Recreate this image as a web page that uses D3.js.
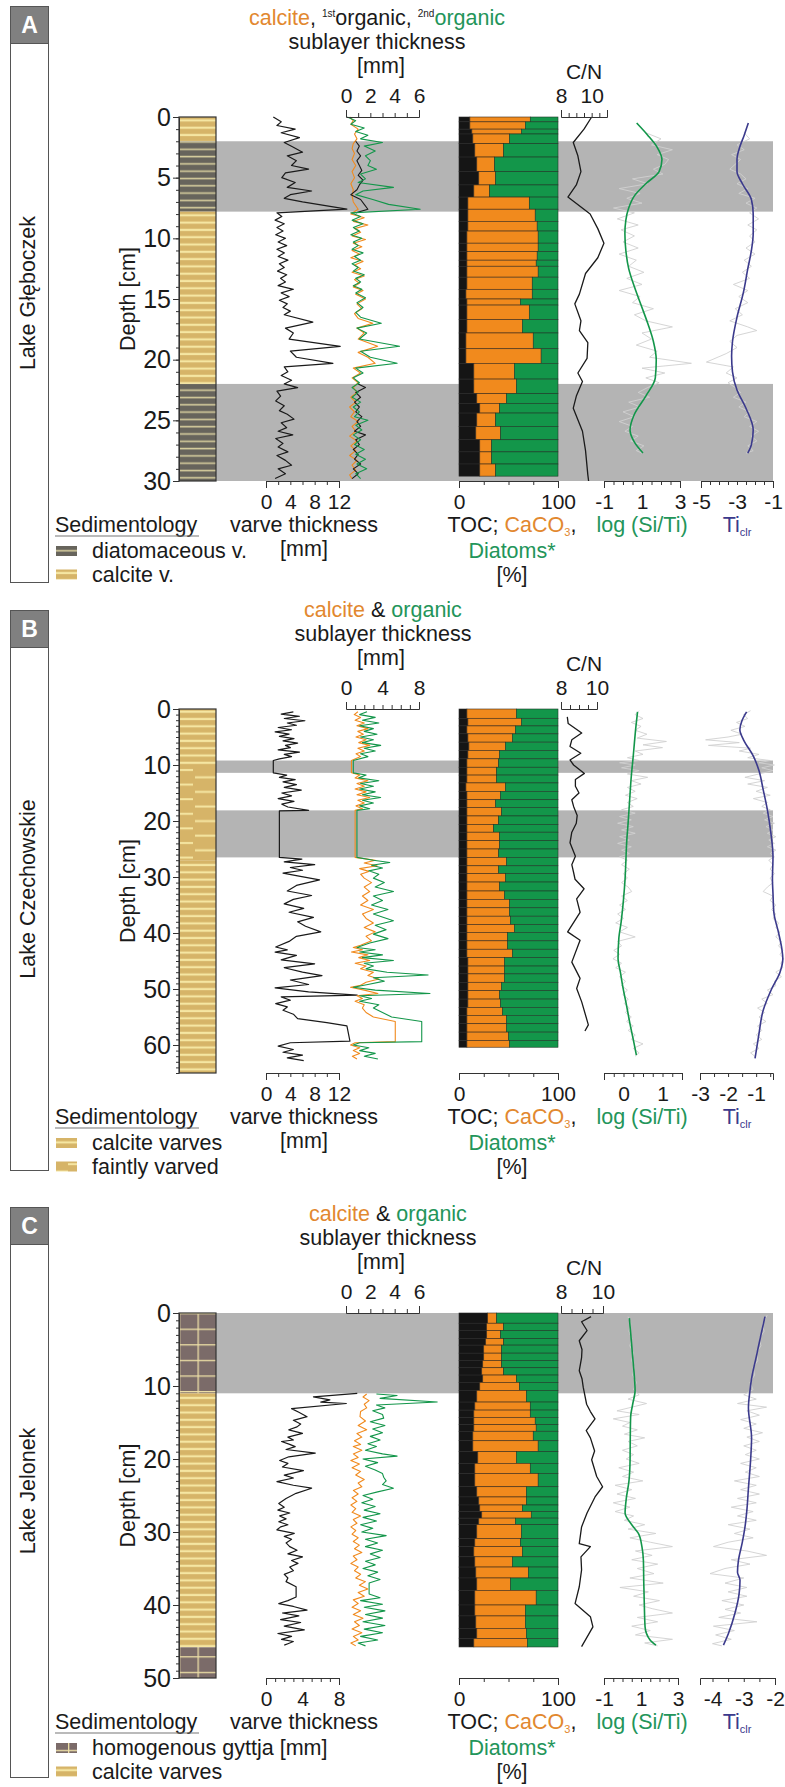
<!DOCTYPE html>
<html>
<head>
<meta charset="utf-8">
<script src="https://cdn.jsdelivr.net/npm/d3@7"></script>
<style>
  body { margin: 0; background: #fff; }
  svg { display: block; font-family: "Liberation Sans", Arial, Helvetica, sans-serif; }
</style>
</head>
<body>
<svg id="chart" width="785" height="1787"></svg>
<script>
// ---------- Lake Gleboczek (A) ----------
const aDepthTicks = [0, 5, 10, 15, 20, 25, 30];
const aLith = [[0, 2, "calcite"], [2, 7.8, "diatom"], [7.8, 22, "calcite"], [22, 30, "diatom"]];
const aBands = [[2, 7.8], [22, 30]];
const aVarveTicks = [0, 4, 8, 12];
const aVarve = [[0,1.2],[0.4,2.5],[0.7,1.8],[1.0,4.8],[1.3,2.5],[1.7,5.5],[2.1,3.0],[2.5,4.5],[2.9,6.0],[3.2,3.5],[3.6,5.0],[4.0,4.2],[4.3,7.0],[4.6,3.2],[5.0,2.6],[5.4,4.8],[5.8,3.5],[6.1,7.5],[6.4,4.0],[6.7,3.0],[7.0,6.0],[7.6,13.3],[7.9,1.8],[8.2,2.6],[8.5,1.5],[8.8,3.0],[9.1,1.8],[9.4,2.8],[9.7,1.6],[10.0,3.2],[10.3,2.0],[10.6,3.4],[10.9,1.8],[11.2,3.0],[11.5,2.0],[11.8,3.6],[12.1,2.2],[12.4,3.0],[12.7,1.9],[13.0,3.4],[13.3,2.4],[13.6,3.2],[13.9,2.0],[14.2,4.5],[14.5,2.5],[14.8,3.8],[15.1,2.2],[15.4,3.5],[15.7,2.8],[16.0,4.0],[16.3,3.0],[16.9,7.7],[17.4,3.2],[17.8,4.5],[18.3,3.8],[18.9,12.2],[19.3,4.0],[19.8,5.0],[20.3,11.0],[20.6,3.0],[21.0,3.6],[21.3,2.5],[21.7,4.2],[22.0,3.0],[22.3,5.2],[22.6,1.8],[23.0,2.4],[23.4,1.6],[23.8,3.0],[24.2,2.2],[24.5,3.5],[24.9,4.6],[25.2,2.5],[25.6,3.4],[25.9,2.0],[26.2,4.4],[26.5,1.6],[26.9,2.8],[27.2,2.0],[27.6,3.6],[27.9,1.8],[28.3,3.2],[28.7,4.2],[29.0,2.0],[29.4,3.2],[29.8,1.5]];
const aSubTicks = [0, 2, 4, 6];
const aCalcite = [[0,0.3],[0.3,0.6],[0.6,0.4],[1.0,1.0],[1.4,0.7],[1.8,0.9],[2.2,0.6],[2.6,0.5],[3.0,0.7],[3.5,0.5],[4.0,0.8],[4.5,0.5],[5.0,0.7],[5.5,0.4],[6.0,0.6],[6.5,0.5],[7.0,0.6],[7.6,1.0],[8.0,0.4],[8.3,1.5],[8.6,0.6],[8.9,1.8],[9.2,0.7],[9.5,1.2],[9.8,0.5],[10.1,1.6],[10.4,0.6],[10.7,1.3],[11.0,0.5],[11.3,1.1],[11.6,0.4],[11.9,1.4],[12.2,0.7],[12.5,1.2],[12.8,0.5],[13.1,1.5],[13.4,0.7],[13.7,1.1],[14.0,0.6],[14.3,1.4],[14.6,0.8],[15.0,1.6],[15.4,0.9],[15.8,1.3],[16.2,0.7],[16.6,1.0],[17.0,2.2],[17.4,0.9],[17.8,1.5],[18.3,1.0],[18.9,2.6],[19.4,1.0],[19.8,1.8],[20.3,2.4],[20.7,0.6],[21.1,1.2],[21.5,0.5],[21.9,1.0],[22.3,0.6],[22.7,0.9],[23.1,0.4],[23.5,0.8],[23.9,0.3],[24.3,0.7],[24.7,0.4],[25.1,1.0],[25.5,0.5],[25.9,0.8],[26.3,0.3],[26.7,0.9],[27.1,0.4],[27.5,0.8],[27.9,0.3],[28.3,0.9],[28.7,0.5],[29.1,0.8],[29.5,0.3],[29.8,0.5]];
const aOrg1 = [[2.0,0.8],[2.4,1.1],[2.8,0.9],[3.2,1.2],[3.6,0.9],[4.0,1.1],[4.4,1.3],[4.8,1.0],[5.2,1.4],[5.6,1.1],[6.0,0.9],[6.4,0.4],[6.8,1.2],[7.2,1.5],[7.6,1.8],[7.9,0.8],null,[22.0,1.0],[22.3,1.6],[22.7,0.8],[23.1,1.2],[23.5,0.7],[23.9,1.1],[24.3,0.8],[24.7,1.3],[25.1,0.9],[25.5,1.2],[25.9,0.7],[26.2,1.6],[26.6,0.8],[27.0,1.1],[27.4,0.6],[27.8,1.0],[28.2,0.7],[28.6,1.2],[29.0,0.6],[29.4,1.0],[29.8,0.5]];
const aOrg2 = [[0,0.1],[0.3,0.8],[0.6,0.4],[0.9,1.5],[1.2,0.8],[1.5,1.8],[1.8,1.2],[2.1,3.0],[2.4,1.5],[2.8,2.4],[3.2,1.6],[3.6,2.0],[4.0,1.8],[4.3,2.5],[4.7,1.2],[5.1,1.6],[5.4,1.0],[5.8,3.9],[6.1,1.4],[6.4,0.8],[6.8,2.2],[7.2,3.5],[7.6,6.1],[7.9,0.4],[8.2,1.2],[8.5,0.5],[8.8,1.4],[9.1,0.6],[9.4,1.1],[9.7,0.4],[10.0,1.3],[10.3,0.6],[10.6,1.0],[10.9,0.5],[11.2,1.4],[11.5,0.7],[11.8,1.2],[12.1,0.5],[12.4,1.0],[12.7,0.6],[13.0,1.5],[13.3,0.8],[13.6,1.2],[13.9,0.6],[14.2,1.3],[14.5,0.8],[14.9,1.6],[15.3,0.9],[15.7,1.4],[16.1,0.8],[16.5,1.2],[17.0,2.9],[17.4,0.9],[17.8,1.7],[18.3,1.1],[18.9,4.4],[19.3,1.2],[19.8,2.0],[20.3,4.2],[20.7,0.8],[21.1,1.4],[21.5,0.6],[21.9,1.1],[22.3,0.5],[22.7,1.0],[23.1,0.5],[23.5,1.2],[23.9,0.6],[24.3,1.1],[24.7,0.7],[25.0,1.8],[25.4,0.8],[25.8,1.3],[26.2,0.6],[26.6,1.2],[27.0,0.7],[27.4,1.5],[27.8,0.8],[28.2,1.6],[28.6,0.9],[29.0,1.7],[29.4,0.8],[29.8,1.2]];
// [top, bottom, TOC %, CaCO3 %] - diatoms fill the rest to 100
const aBars = [[0,0.4,11,61],[0.4,1.0,11,56],[1.0,1.4,13,50],[1.4,2.2,14,37],[2.2,3.3,16,29],[3.3,4.5,18,18],[4.5,5.6,20,17],[5.6,6.6,15,16],[6.6,7.6,9,62],[7.6,8.6,9,68],[8.6,9.4,9,70],[9.4,10.4,8,72],[10.4,11.1,8,72],[11.1,11.8,8,71],[11.8,12.3,8,70],[12.3,13.2,8,72],[13.2,14.2,8,66],[14.2,15.0,7,67],[15.0,15.5,8,54],[15.5,16.7,8,63],[16.7,17.8,8,56],[17.8,19.1,7,68],[19.1,20.3,7,76],[20.3,21.6,15,41],[21.6,22.8,15,43],[22.8,23.6,18,30],[23.6,24.4,21,20],[24.4,25.5,18,19],[25.5,26.6,17,25],[26.6,27.6,21,12],[27.6,28.6,21,12],[28.6,29.6,21,16]];
const aCN = [[0,10.0],[1.0,9.5],[2.1,8.8],[3.2,9.1],[4.5,9.3],[5.6,9.0],[6.6,8.45],[8.0,9.9],[9.2,10.4],[10.4,10.8],[11.6,10.4],[12.9,9.6],[14.6,9.2],[15.4,8.9],[16.8,9.3],[17.6,9.2],[18.6,9.75],[19.9,9.7],[21.1,9.1],[21.8,9.4],[23.0,9.0],[24.0,8.8],[25.9,9.4],[27.5,9.6],[29.5,9.75],[30,9.8]];
const aLogTicks = [-1, 1, 3];
const aLogRaw = [[1.3,1.2],[1.8,2.0],[2.3,1.5],[2.7,2.6],[3.1,1.8],[3.5,2.4],[3.9,2.2],[4.3,1.6],[4.7,2.1],[5.1,0.5],[5.5,1.3],[5.9,-0.2],[6.3,0.9],[6.7,0.2],[7.1,1.0],[7.5,-0.5],[7.9,0.6],[8.4,-0.3],[8.9,0.8],[9.3,-0.1],[9.8,0.6],[10.3,0.0],[10.8,0.8],[11.3,-0.2],[11.8,0.7],[12.3,0.3],[12.8,1.1],[13.3,0.2],[13.8,1.0],[14.3,-0.2],[14.8,0.9],[15.3,0.5],[15.8,1.6],[16.3,0.6],[16.8,1.2],[17.3,2.6],[17.8,1.0],[18.3,1.5],[18.8,0.7],[19.3,1.8],[19.8,1.4],[20.3,3.6],[20.7,1.0],[21.1,2.2],[21.5,1.2],[21.9,1.9],[22.3,1.3],[22.7,0.8],[23.1,1.4],[23.5,0.3],[23.9,0.9],[24.3,0.0],[24.7,0.6],[25.1,-0.2],[25.5,0.5],[25.9,0.1],[26.3,0.8],[26.7,0.4],[27.1,1.1],[27.5,0.7],[27.7,1.0]];
const aLogSmooth = [[0.5,0.72],[1.5,1.3],[2.5,1.8],[3.5,2.05],[4.5,1.9],[5.5,1.2],[6.5,0.6],[7.5,0.3],[8.5,0.15],[9.6,0.1],[11,0.15],[12.5,0.3],[14,0.6],[15.5,0.95],[17,1.3],[18.5,1.6],[20,1.75],[21.5,1.7],[23,1.2],[24.5,0.6],[25.8,0.37],[26.8,0.6],[27.7,1.05]];
const aTiTicks = [-5, -3, -1];
const aTiRaw = [[1.3,-2.6],[1.8,-2.3],[2.3,-3.0],[2.7,-2.6],[3.1,-3.3],[3.5,-2.8],[3.9,-3.1],[4.3,-3.4],[4.7,-2.8],[5.1,-2.5],[5.5,-3.0],[5.9,-2.4],[6.3,-2.9],[6.7,-2.0],[7.1,-2.5],[7.5,-1.9],[7.9,-2.3],[8.4,-1.8],[8.9,-2.4],[9.3,-1.9],[9.8,-2.3],[10.3,-2.0],[10.8,-2.5],[11.3,-2.0],[11.8,-2.6],[12.3,-2.2],[12.8,-2.7],[13.3,-2.3],[13.8,-3.2],[14.3,-2.4],[14.8,-2.9],[15.3,-2.4],[15.8,-3.1],[16.3,-2.7],[16.8,-3.4],[17.3,-2.4],[17.6,-1.9],[18.0,-3.0],[18.5,-3.4],[19.0,-3.0],[19.5,-3.6],[20.2,-4.7],[20.6,-3.2],[21.1,-3.6],[21.5,-3.0],[21.9,-3.5],[22.3,-3.1],[22.7,-2.8],[23.1,-3.2],[23.5,-2.5],[23.9,-2.9],[24.3,-2.3],[24.7,-2.6],[25.1,-1.9],[25.5,-2.3],[25.9,-1.8],[26.3,-2.2],[26.7,-1.9],[27.1,-2.4],[27.5,-2.1],[27.7,-2.5]];
const aTiSmooth = [[0.5,-2.37],[1.5,-2.6],[2.5,-2.85],[3.5,-3.0],[4.5,-3.0],[5.5,-2.7],[6.8,-2.2],[8,-2.1],[9.6,-2.1],[11,-2.2],[12.5,-2.4],[14.5,-2.65],[16.5,-3.0],[18.5,-3.25],[19.7,-3.3],[21,-3.25],[22.5,-3.0],[24,-2.5],[25.8,-2.1],[27,-2.2],[27.7,-2.4]];

// ---------- Lake Czechowskie (B) ----------
const bDepthTicks = [0, 10, 20, 30, 40, 50, 60];
const bLith = [[0, 10, "calcite"], [10, 27, "faint"], [27, 65, "calcite"]];
const bBands = [[9.2, 11.4], [18.1, 26.5]];
const bVarveTicks = [0, 4, 8, 12];
const bVarve = [[0.5,4.5],[0.9,2.5],[1.3,5.5],[1.7,3.0],[2.1,6.4],[2.5,3.5],[2.9,5.0],[3.3,2.0],[3.7,4.2],[4.1,1.5],[4.5,3.8],[4.9,2.2],[5.3,4.6],[5.7,2.8],[6.1,5.2],[6.5,3.2],[6.9,4.0],[7.3,2.0],[7.7,5.5],[8.1,3.0],[8.5,4.2],[8.9,2.2],[9.2,1.2],[11.4,1.2],[11.8,3.4],[12.2,2.2],[12.6,4.8],[13.0,2.8],[13.5,5.0],[14.0,3.0],[14.5,5.8],[15.0,2.6],[15.5,4.2],[16.0,2.0],[16.5,4.6],[17.0,2.6],[17.5,3.6],[18.1,7.0],[18.2,2.2],[26.5,2.2],[26.8,5.9],[27.3,3.0],[27.8,8.0],[28.3,4.0],[28.8,6.0],[29.3,2.8],[29.8,5.2],[30.5,8.8],[31.5,5.0],[32.5,3.5],[33.3,7.5],[34.0,4.5],[34.8,3.0],[35.6,6.2],[36.3,3.8],[37.2,7.8],[38.0,5.2],[38.8,6.5],[39.8,9.0],[40.6,5.0],[41.5,3.8],[42.5,1.6],[43.0,3.5],[43.4,1.5],[44.0,5.0],[44.8,2.5],[45.5,8.0],[46.2,3.0],[47.0,6.0],[47.6,9.2],[48.4,4.0],[49.2,7.0],[49.8,1.5],[50.5,7.0],[51.1,15.0],[51.4,2.5],[52.0,4.0],[52.6,1.6],[53.2,3.5],[53.8,2.8],[54.5,4.5],[55.3,5.2],[56.0,10.0],[56.6,13.3],[59.3,13.8],[59.6,4.0],[60.2,2.0],[60.8,4.5],[61.3,2.8],[61.8,6.0],[62.3,3.5],[62.8,6.2]];
const bSubTicks = [0, 4, 8];
const bCalcite = [[0.5,1.3],[1.0,0.9],[1.5,1.6],[2.0,1.0],[2.5,2.0],[3.0,1.2],[3.5,2.4],[4.0,1.3],[4.5,1.9],[5.0,1.1],[5.5,2.2],[6.0,1.4],[6.5,2.6],[7.0,1.3],[7.5,2.0],[8.0,1.1],[8.5,1.6],[9.2,0.6],[11.4,0.6],[11.8,1.5],[12.3,1.0],[12.8,2.4],[13.3,1.2],[13.8,2.0],[14.3,1.0],[14.8,2.2],[15.3,1.2],[15.8,2.6],[16.3,1.3],[16.8,2.0],[17.3,1.1],[17.8,1.8],[18.1,1.0],[26.5,1.0],[27.0,3.2],[27.5,2.0],[28.0,3.4],[28.5,1.5],[29.0,2.5],[29.5,1.6],[30.2,2.0],[31.0,2.8],[31.8,2.0],[32.6,2.6],[33.4,1.8],[34.2,2.4],[35.0,1.6],[35.8,3.0],[36.6,1.8],[37.4,2.2],[38.2,3.0],[39.0,2.0],[39.8,3.2],[40.6,2.2],[41.4,2.8],[42.2,1.6],[42.6,0.8],[43.0,1.8],[43.4,0.6],[43.9,2.4],[44.4,1.4],[44.9,2.6],[45.4,1.0],[45.9,2.2],[46.4,1.6],[47.0,3.0],[47.6,2.4],[48.2,3.6],[48.8,2.2],[49.4,1.5],[49.7,0.5],[50.2,2.0],[50.8,3.5],[51.2,1.2],[51.7,1.8],[52.2,1.0],[52.8,2.0],[53.4,1.8],[54.2,2.2],[55.0,3.0],[55.8,5.4],[59.4,5.4],[59.6,1.0],[60.0,0.5],[60.5,1.5],[61.0,0.8],[61.5,1.5],[62.0,0.7],[62.5,1.2]];
const bOrganic = [[0.5,2.3],[1.0,1.5],[1.5,3.2],[2.0,1.8],[2.5,3.6],[3.0,1.5],[3.5,3.0],[4.0,2.0],[4.5,3.4],[5.0,1.6],[5.5,3.0],[6.0,1.8],[6.5,3.8],[7.0,2.0],[7.5,3.2],[8.0,1.6],[8.5,2.4],[9.2,0.8],[11.4,0.8],[11.8,2.2],[12.3,1.4],[12.8,3.6],[13.3,1.6],[13.8,3.0],[14.3,1.5],[14.8,3.2],[15.3,1.8],[15.8,3.8],[16.3,1.8],[16.8,3.0],[17.3,1.5],[17.8,2.6],[18.1,1.2],[26.5,1.2],[27.0,3.0],[27.4,4.8],[27.9,2.8],[28.4,4.0],[28.9,2.5],[29.5,3.6],[30.2,3.0],[31.0,4.2],[31.8,3.2],[32.6,5.2],[33.4,3.0],[34.2,4.0],[35.0,2.8],[35.8,4.6],[36.6,3.0],[37.8,5.2],[38.6,3.2],[39.4,4.4],[40.2,3.0],[41.0,4.6],[41.8,2.6],[42.6,1.2],[43.0,3.2],[43.4,1.5],[43.9,4.0],[44.4,1.8],[44.9,5.2],[45.4,2.0],[45.9,3.0],[46.4,2.2],[47.0,4.5],[47.5,9.0],[48.0,3.0],[48.6,4.2],[49.2,2.4],[49.7,0.8],[50.2,3.2],[50.8,9.2],[51.2,1.5],[51.7,2.8],[52.2,1.5],[52.8,3.6],[53.4,3.0],[54.2,4.0],[55.0,5.0],[55.8,8.3],[59.4,8.3],[59.6,1.5],[60.0,0.8],[60.5,2.5],[61.0,1.5],[61.5,3.2],[62.0,2.0],[62.5,3.5]];
const bBars = [[0,1.66,8,50],[1.66,3.02,9,54],[3.02,4.44,8,49],[4.44,5.92,9,45],[5.92,7.4,10,37],[7.4,8.9,9,32],[8.9,10.4,8,32],[10.4,11.8,8,30],[11.8,13.2,8,30],[13.2,14.7,7,40],[14.7,16.2,8,34],[16.2,17.6,8,29],[17.6,19.1,8,35],[19.1,20.6,8,32],[20.6,22.0,8,27],[22.0,23.5,8,33],[23.5,25.0,8,33],[25.0,26.5,8,32],[26.5,28.0,8,40],[28.0,29.4,8,32],[29.4,30.9,8,39],[30.9,32.5,8,33],[32.5,34.0,8,38],[34.0,35.5,8,43],[35.5,37.0,8,43],[37.0,38.5,8,44],[38.5,39.9,8,48],[39.9,41.4,8,41],[41.4,42.9,8,41],[42.9,44.4,8,46],[44.4,45.9,9,37],[45.9,47.3,9,37],[47.3,48.8,9,37],[48.8,50.3,9,34],[50.3,51.8,9,32],[51.8,53.3,9,33],[53.3,54.7,8,36],[54.7,56.2,8,40],[56.2,57.7,8,40],[57.7,59.2,8,42],[59.2,60.4,8,43]];
const bCN = [[1.4,8.35],[2.6,8.4],[4.3,9.15],[5.5,8.6],[6.7,8.5],[7.9,9.1],[9.1,8.5],[10,8.7],[11.5,9.3],[12.6,8.8],[13.8,8.8],[15,9.0],[16.2,8.6],[17.4,8.7],[19,8.9],[20.4,8.85],[22,8.6],[23.9,8.5],[26.3,8.8],[27.8,8.6],[29.2,8.7],[30.4,8.78],[32.1,9.28],[33.9,8.87],[36.3,9.06],[39.8,8.37],[41.3,9.06],[45.2,8.6],[48.1,9.06],[49.9,8.87],[52.3,9.15],[56.4,9.52],[57.5,9.33]];
const bLogTicks = [0, 1];
const bLogRaw = [[0.3,0.4],[1.0,0.3],[1.7,0.5],[2.4,0.2],[3.1,0.45],[3.8,0.3],[4.5,0.6],[5.2,0.35],[5.8,1.1],[6.4,0.5],[6.9,1.0],[7.5,0.3],[8.1,0.5],[8.7,0.1],[9.2,0.4],[9.6,-0.1],[10.0,0.3],[10.5,-0.05],[11.0,0.4],[11.6,0.1],[12.2,0.62],[12.8,0.2],[13.4,0.45],[14.0,0.1],[14.7,0.3],[15.4,0.05],[16.0,0.35],[16.7,0.1],[17.4,0.25],[18.0,-0.05],[18.6,0.3],[19.2,-0.1],[19.8,0.2],[20.4,-0.15],[21.0,0.25],[21.6,-0.05],[22.2,0.3],[22.8,-0.1],[23.4,0.15],[24.0,-0.15],[24.6,0.2],[25.2,-0.05],[25.8,0.15],[26.4,-0.1],[27.0,0.1],[27.8,-0.05],[28.6,0.15],[29.4,0.0],[30.2,0.1],[31.0,-0.05],[31.8,0.12],[32.6,0.21],[33.4,-0.05],[34.2,0.1],[35.0,-0.1],[35.8,0.05],[36.6,-0.15],[37.4,0.0],[38.2,-0.2],[39.0,0.1],[39.8,-0.1],[40.7,0.3],[41.5,-0.15],[42.3,-0.05],[43.1,-0.25],[43.8,-0.1],[44.6,-0.27],[45.4,-0.05],[46.2,-0.2],[47.0,0.05],[47.8,-0.1],[48.6,0.05],[49.4,-0.05],[50.2,0.1],[51.0,-0.02],[51.8,0.12],[52.6,0.02],[53.4,0.15],[54.2,0.05],[55.0,0.2],[55.8,0.08],[56.6,0.25],[57.4,0.12],[58.2,0.3],[59.0,0.2],[59.8,0.5],[60.6,0.25],[61.4,0.4],[62.0,0.3]];
const bLogSmooth = [[0.5,0.36],[3,0.32],[6,0.28],[8.4,0.25],[12,0.2],[16,0.16],[20.2,0.12],[24,0.08],[27.3,0.06],[30.4,0.04],[34,0.0],[38,-0.06],[41,-0.12],[44.6,-0.14],[47,-0.08],[49.9,-0.01],[53,0.08],[56,0.16],[59,0.25],[61.8,0.33]];
const bTiTicks = [-3, -2, -1];
const bTiRaw = [[0.3,-1.2],[1.0,-1.45],[1.7,-1.3],[2.4,-1.7],[3.1,-1.4],[3.8,-1.9],[4.5,-1.5],[5.0,-2.0],[5.5,-2.8],[6.0,-1.6],[6.5,-2.7],[7.0,-1.2],[7.5,-1.6],[8.1,-0.9],[8.7,-1.3],[9.2,-0.5],[9.6,-0.9],[10.0,-0.35],[10.5,-0.8],[11.0,-0.4],[11.6,-0.9],[12.2,-1.4],[12.8,-0.7],[13.4,-1.3],[14.0,-0.6],[14.7,-1.0],[15.4,-0.5],[16.0,-1.1],[16.7,-0.6],[17.4,-0.8],[18.0,-0.5],[18.6,-0.75],[19.2,-0.4],[19.8,-0.7],[20.4,-0.35],[21.0,-0.65],[21.6,-0.4],[22.2,-0.6],[22.8,-0.3],[23.4,-0.55],[24.0,-0.35],[24.6,-0.6],[25.2,-0.3],[25.8,-0.5],[26.4,-0.35],[27.0,-0.55],[27.8,-0.4],[28.6,-0.5],[29.4,-0.35],[30.2,-0.5],[31.0,-0.4],[31.8,-0.6],[32.6,-0.75],[33.4,-0.4],[34.2,-0.5],[35.0,-0.3],[35.8,-0.45],[36.6,-0.3],[37.4,-0.4],[38.2,-0.2],[39.0,-0.3],[39.8,-0.15],[40.7,-0.3],[41.5,-0.1],[42.3,-0.2],[43.1,-0.05],[43.8,-0.15],[44.6,-0.02],[45.4,-0.12],[46.2,-0.05],[47.0,-0.3],[47.8,-0.1],[48.6,-0.35],[49.4,-0.3],[50.2,-0.6],[51.0,-0.4],[51.8,-0.8],[52.6,-0.6],[53.4,-0.95],[54.2,-0.7],[55.0,-0.9],[55.8,-0.65],[56.6,-0.95],[57.4,-0.8],[58.2,-1.0],[59.0,-0.8],[59.8,-1.1],[60.6,-0.9],[61.4,-1.2],[62.2,-1.0]];
const bTiSmooth = [[0.5,-1.34],[2,-1.5],[3.7,-1.58],[5.5,-1.45],[8.4,-1.1],[11,-0.9],[14.4,-0.75],[18,-0.6],[22,-0.48],[26.3,-0.4],[30.4,-0.42],[33,-0.4],[36.3,-0.37],[40,-0.2],[43,-0.08],[44.6,-0.05],[47,-0.15],[50,-0.45],[54,-0.76],[58,-0.9],[62.4,-1.04]];

// ---------- Lake Jelonek (C) ----------
const cDepthTicks = [0, 10, 20, 30, 40, 50];
const cLith = [[0, 11, "gyttja"], [11, 45.8, "calcite"], [45.8, 50, "gyttja"]];
const cBands = [[0, 11]];
const cVarveTicks = [0, 4, 8];
const cVarve = [[11.0,10.0],[11.5,5.2],[11.9,7.0],[12.2,6.0],[12.4,8.8],[13.1,2.8],[13.6,3.6],[14.2,4.5],[14.7,3.0],[15.2,3.8],[15.6,3.4],[16.0,2.5],[16.5,4.0],[17.0,2.4],[17.4,3.0],[17.6,1.7],[18.0,2.6],[18.3,3.2],[18.7,2.2],[19.2,5.4],[19.7,2.5],[20.2,1.5],[20.6,2.4],[21.1,1.8],[21.6,4.1],[22.2,2.0],[22.6,3.0],[23.1,1.2],[23.6,3.0],[24.0,5.0],[24.7,3.3],[25.4,2.2],[26.1,1.4],[26.6,2.0],[27.0,1.3],[27.4,2.6],[27.8,1.5],[28.2,2.2],[28.6,1.4],[29.0,2.4],[29.3,1.6],[29.7,1.2],[30.2,3.1],[30.6,2.0],[31.0,2.8],[31.5,2.2],[32.0,2.6],[32.5,3.4],[33.0,2.4],[33.4,4.0],[33.9,2.8],[34.3,3.5],[34.8,2.6],[35.3,3.0],[35.8,2.0],[36.3,2.4],[36.8,2.2],[37.5,3.3],[38.2,3.3],[38.9,3.3],[39.4,2.4],[39.8,1.4],[40.2,3.0],[40.7,4.5],[41.1,1.8],[41.5,3.6],[42.0,1.6],[42.4,3.8],[42.9,2.0],[43.4,4.2],[43.9,1.3],[44.3,2.8],[44.7,1.7],[45.0,3.0],[45.3,2.4],[45.5,2.0]];
const cSubTicks = [0, 2, 4, 6];
const cCalcite = [[11.1,1.7],[11.5,1.4],[12.0,1.9],[12.5,1.5],[13.0,1.7],[13.5,1.2],[14.2,1.15],[14.8,1.6],[15.4,1.0],[16.0,1.7],[16.5,0.9],[17.0,1.3],[17.5,0.7],[18.0,1.2],[18.3,0.6],[18.8,1.3],[19.3,0.6],[19.8,1.0],[20.2,0.4],[20.7,1.1],[21.2,0.5],[21.7,1.2],[22.2,0.8],[22.8,1.5],[23.3,1.0],[23.8,1.3],[24.3,0.6],[24.8,1.0],[25.3,0.5],[25.8,0.9],[26.3,0.4],[26.8,0.8],[27.3,0.5],[27.8,1.2],[28.3,0.6],[28.8,0.9],[29.3,0.4],[29.8,0.8],[30.3,0.5],[30.8,1.0],[31.3,0.6],[31.8,1.1],[32.3,0.7],[32.8,1.3],[33.3,0.6],[33.8,0.9],[34.3,0.4],[34.8,1.0],[35.3,0.7],[35.8,1.2],[36.3,0.8],[36.8,1.6],[37.3,1.1],[37.8,1.8],[38.3,1.0],[38.8,1.5],[39.3,0.6],[39.8,1.0],[40.3,0.5],[40.8,1.2],[41.3,0.6],[41.8,1.4],[42.3,0.7],[42.8,1.1],[43.3,0.5],[43.8,1.3],[44.3,0.6],[44.8,1.0],[45.2,0.4],[45.6,0.8]];
const cOrganic = [[11.1,2.5],[11.3,4.2],[11.7,2.8],[12.2,7.5],[12.6,2.5],[13.0,3.2],[13.4,2.2],[13.9,3.0],[14.4,3.1],[14.9,2.0],[15.4,3.2],[15.9,2.2],[16.4,3.0],[16.9,2.0],[17.4,2.8],[17.9,1.8],[18.3,2.5],[18.8,1.6],[19.3,3.0],[19.6,4.2],[20.0,1.4],[20.5,2.6],[21.0,1.6],[21.5,2.4],[22.0,3.0],[22.5,3.1],[23.0,3.3],[23.5,3.0],[24.0,3.9],[24.5,2.6],[25.0,1.4],[25.5,2.2],[26.0,1.3],[26.5,2.4],[27.0,1.5],[27.5,2.8],[28.0,1.4],[28.5,2.5],[29.0,1.2],[29.5,2.2],[30.0,1.3],[30.5,3.3],[31.0,1.6],[31.5,2.6],[32.0,1.6],[32.5,3.0],[33.0,2.0],[33.5,2.8],[34.0,1.6],[34.5,2.4],[35.0,1.4],[35.5,2.6],[36.0,1.8],[36.5,2.8],[37.0,1.9],[37.5,1.9],[38.5,1.9],[39.0,2.8],[39.4,1.2],[39.9,3.0],[40.3,1.5],[40.8,3.2],[41.3,1.6],[41.8,3.0],[42.3,1.4],[42.8,3.2],[43.3,1.5],[43.8,3.0],[44.3,1.2],[44.8,2.6],[45.2,1.0],[45.6,1.6]];
const cBars = [[0,1.4,29,9],[1.4,2.4,28,17],[2.4,3.5,28,14],[3.5,4.4,27,18],[4.4,5.5,25,18],[5.5,6.5,25,18],[6.5,7.5,24,19],[7.5,8.5,23,22],[8.5,9.5,24,34],[9.5,10.6,21,40],[10.6,12.2,18,50],[12.2,13.3,16,56],[13.3,14.3,15,57],[14.3,15.3,15,62],[15.3,16.2,15,63],[16.2,17.5,14,61],[17.5,19.0,14,66],[19.0,20.6,19,39],[20.6,22.0,16,56],[22.0,23.8,16,64],[23.8,25.2,18,50],[25.2,26.3,20,48],[26.3,27.2,21,43],[27.2,28.1,23,50],[28.1,29.0,20,37],[29.0,30.9,18,45],[30.9,32.0,16,46],[32.0,33.4,15,49],[33.4,34.8,16,38],[34.8,36.3,17,53],[36.3,38.0,18,34],[38.0,40.0,16,62],[40.0,41.5,16,51],[41.5,43.2,17,50],[43.2,44.6,18,50],[44.6,45.75,15,54]];
const cCN = [[0.5,9.43],[1.2,8.98],[2.4,9.24],[3.8,8.87],[5.0,9.0],[6.1,8.98],[7.9,8.87],[9.0,9.0],[10.2,9.06],[12.5,9.22],[13.5,9.4],[14.5,9.62],[16.1,9.2],[17.1,9.4],[18.9,9.6],[20.1,9.46],[22.4,9.7],[23.8,9.98],[25.2,9.62],[27.4,9.24],[29.3,8.98],[31.6,8.87],[32.0,9.4],[33.4,8.95],[35.2,8.98],[37.5,8.87],[39.8,8.67],[41.6,9.4],[43.0,9.52],[45.7,8.98]];
const cLogTicks = [-1, 1, 3];
const cLogRaw = [[0.5,0.3],[1.5,0.45],[2.5,0.35],[3.5,0.5],[4.5,0.4],[5.5,0.6],[6.5,0.5],[7.5,0.65],[8.5,0.55],[9.5,0.75],[10.5,0.6],[11.2,0.9],[11.8,0.3],[12.4,1.3],[12.9,0.5],[13.4,-0.3],[13.9,0.9],[14.5,-0.5],[15.0,0.4],[15.5,0.0],[16.0,0.8],[16.6,0.1],[17.1,1.2],[17.6,0.3],[18.2,0.8],[18.8,0.0],[19.4,0.6],[20.0,0.2],[20.6,0.9],[21.2,-0.2],[21.8,0.6],[22.4,0.0],[23.0,1.1],[23.6,-0.4],[24.2,0.5],[24.8,-0.3],[25.4,0.7],[26.0,-0.5],[26.6,0.4],[27.2,-0.4],[27.8,0.6],[28.4,0.1],[29.0,1.2],[29.6,0.3],[30.2,1.8],[30.8,0.4],[31.4,1.5],[32.0,2.7],[32.6,0.7],[33.2,1.6],[33.8,0.5],[34.4,1.9],[35.0,0.8],[35.7,1.7],[36.3,0.4],[37.0,2.2],[37.6,-0.14],[38.2,1.4],[38.8,0.6],[39.4,2.0],[40.0,0.9],[40.5,1.6],[41.1,2.7],[41.7,0.8],[42.3,1.9],[42.9,0.5],[43.5,1.5],[44.1,0.7],[44.7,2.7],[45.2,1.2],[45.6,1.9]];
const cLogSmooth = [[0.7,0.37],[3,0.45],[6,0.55],[9,0.65],[10.6,0.68],[12.5,0.55],[14.2,0.44],[17,0.42],[20.1,0.41],[23,0.35],[25.5,0.2],[27.4,0.14],[29,0.5],[30.2,0.86],[32,1.05],[33.9,1.13],[37,1.15],[40,1.18],[43,1.22],[44.8,1.49],[45.5,1.81]];
const cTiTicks = [-4, -3, -2];
const cTiRaw = [[0.3,-2.25],[1.5,-2.4],[2.5,-2.35],[3.5,-2.5],[4.5,-2.45],[5.5,-2.6],[6.5,-2.55],[7.5,-2.7],[8.5,-2.65],[9.5,-2.8],[10.5,-2.7],[11.2,-3.0],[11.8,-2.6],[12.4,-3.2],[12.9,-2.27],[13.4,-2.9],[14.0,-2.5],[14.6,-3.1],[15.2,-2.6],[15.8,-3.0],[16.4,-2.4],[17.0,-2.9],[17.6,-2.5],[18.2,-3.0],[18.8,-2.6],[19.4,-2.95],[20.0,-2.5],[20.6,-3.1],[21.2,-2.6],[21.8,-2.95],[22.4,-2.5],[23.0,-3.3],[23.6,-2.6],[24.2,-3.1],[24.8,-2.5],[25.4,-3.2],[26.0,-2.6],[26.6,-3.4],[27.2,-2.7],[27.8,-3.2],[28.4,-2.6],[29.0,-3.5],[29.6,-2.8],[30.2,-3.3],[30.8,-2.7],[31.4,-3.5],[32.0,-3.97],[32.6,-2.9],[33.2,-2.27],[33.8,-3.4],[34.4,-2.8],[35.0,-3.6],[35.7,-4.08],[36.3,-3.0],[37.0,-3.6],[37.6,-2.9],[38.2,-3.5],[38.8,-2.9],[39.4,-3.7],[40.0,-3.0],[40.6,-3.6],[41.1,-3.1],[41.7,-3.8],[42.3,-2.58],[42.9,-3.97],[43.5,-3.3],[44.1,-3.9],[44.7,-3.4],[45.3,-4.0],[45.6,-3.7]];
const cTiSmooth = [[0.5,-2.32],[3,-2.45],[6,-2.6],[9,-2.75],[10.6,-2.8],[13,-2.85],[17.1,-2.75],[20.1,-2.78],[24,-2.85],[27,-2.9],[29.3,-2.96],[31.5,-3.05],[33.9,-3.17],[35.5,-3.2],[36.6,-3.12],[38.5,-3.15],[41.1,-3.28],[43.9,-3.49],[45.5,-3.65]];

// ---------- styling ----------
const INK = "#1a1a1a";
const ORANGE = "#f18a1d";
const ORANGE_T = "#e2882f";
const GREEN = "#13964a";
const GREEN_T = "#23955a";
const BLUE = "#3b3a8c";
const BAND = "#b4b4b4";
const RAW = "#d0d0d0";
const FS = 21.5;      // labels
const FS_TICK = 21;   // axis numbers
const FS_DEPTH = 25;  // depth numbers

const svg = d3.select("#chart");
const defs = svg.append("defs");

// lithology patterns
let pat = defs.append("pattern").attr("id", "calcite").attr("patternUnits", "userSpaceOnUse")
  .attr("x", 179).attr("width", 37).attr("height", 7.3);
pat.append("rect").attr("width", 37).attr("height", 7.3).attr("fill", "#d6b468");
pat.append("rect").attr("y", 2.5).attr("width", 37).attr("height", 2.2).attr("fill", "#f5e6a2");

pat = defs.append("pattern").attr("id", "diatom").attr("patternUnits", "userSpaceOnUse")
  .attr("x", 179).attr("width", 37).attr("height", 7.3);
pat.append("rect").attr("width", 37).attr("height", 7.3).attr("fill", "#67645c");
pat.append("rect").attr("y", 2.5).attr("width", 37).attr("height", 1.6).attr("fill", "#d4cb9c");

pat = defs.append("pattern").attr("id", "faint").attr("patternUnits", "userSpaceOnUse")
  .attr("x", 179).attr("width", 37).attr("height", 14.6);
pat.append("rect").attr("width", 37).attr("height", 14.6).attr("fill", "#d6b468");
pat.append("rect").attr("x", 16).attr("y", 2.5).attr("width", 21).attr("height", 2).attr("fill", "#f5e6a2");
pat.append("rect").attr("x", 0).attr("y", 9.8).attr("width", 14).attr("height", 2).attr("fill", "#f5e6a2");

pat = defs.append("pattern").attr("id", "gyttja").attr("patternUnits", "userSpaceOnUse")
  .attr("x", 179).attr("y", 1313).attr("width", 18.5).attr("height", 15.6);
pat.append("rect").attr("width", 18.5).attr("height", 15.6).attr("fill", "#7b6b69");
pat.append("rect").attr("width", 18.5).attr("height", 1.3).attr("fill", "#eddfa6");
pat.append("rect").attr("width", 1.3).attr("height", 15.6).attr("fill", "#eddfa6");

const fmt = d => String(d);

// adds a text made of coloured pieces; sub/sup pieces shift the baseline
function addText(g, x, y, parts, opts) {
  opts = opts || {};
  const t = g.append("text")
    .attr("x", x).attr("y", y)
    .attr("text-anchor", opts.anchor || "middle")
    .attr("font-size", opts.size || FS)
    .attr("fill", INK);
  parts.forEach(function(p) {
    if (typeof p === "string") p = { t: p };
    const s = t.append("tspan").text(p.t);
    if (p.c) s.attr("fill", p.c);
    if (p.fs) s.attr("font-size", p.fs);
    if (p.dy) s.attr("dy", p.dy);
  });
  return t;
}

// horizontal axis, ticks at multiples of step, only some of them labelled
function hAxis(g, scale, yPos, orient, step, labels) {
  const dom = scale.domain();
  const first = Math.ceil(dom[0] / step - 1e-9) * step;
  const vals = d3.range(first, dom[1] + step / 2, step).map(v => +v.toFixed(3)).filter(v => v <= dom[1] + 1e-9);
  const axis = (orient === "top" ? d3.axisTop(scale) : d3.axisBottom(scale))
    .tickValues(vals)
    .tickSize(4)
    .tickSizeOuter(7)
    .tickPadding(orient === "top" ? 10 : 9)
    .tickFormat(d => labels.some(v => Math.abs(v - d) < 1e-6) ? fmt(d) : "");
  const ag = g.append("g")
    .attr("transform", "translate(0," + yPos + ")")
    .call(axis);
  ag.selectAll("path, line").attr("stroke", "#333");
  ag.selectAll("text").attr("font-size", FS_TICK).attr("font-family", null).attr("fill", INK);
}

function drawPanel(p) {
  const g = svg.append("g");
  const y = d3.scaleLinear().domain([0, p.maxDepth]).range([p.top, p.bottom]);

  // frame with lake name
  g.append("rect").attr("x", 10.5).attr("y", p.boxTop + 0.5)
    .attr("width", 38).attr("height", p.boxBottom - p.boxTop)
    .attr("fill", "none").attr("stroke", "#555");
  g.append("rect").attr("x", 10.5).attr("y", p.boxTop + 0.5)
    .attr("width", 38).attr("height", 37).attr("fill", "#808080").attr("stroke", "#555");
  addText(g, 29.5, p.boxTop + 27, [p.letter], { size: 23 }).attr("fill", "#fff").attr("font-weight", "bold");
  g.append("text")
    .attr("transform", "translate(35," + p.lakeY + ") rotate(-90)")
    .attr("text-anchor", "middle").attr("font-size", FS).attr("fill", INK)
    .text(p.lake);

  // grey intervals
  g.selectAll(".band").data(p.bands).enter().append("rect")
    .attr("x", 216).attr("width", 557)
    .attr("y", d => y(d[0]))
    .attr("height", d => y(d[1]) - y(d[0]))
    .attr("fill", BAND);

  // lithology column
  g.selectAll(".lith").data(p.lith).enter().append("rect")
    .attr("x", 179).attr("width", 37)
    .attr("y", d => y(d[0]))
    .attr("height", d => y(d[1]) - y(d[0]))
    .attr("fill", d => "url(#" + d[2] + ")");
  g.append("rect").attr("x", 179).attr("y", y(0)).attr("width", 37).attr("height", y(p.maxDepth) - y(0))
    .attr("fill", "none").attr("stroke", "#333").attr("stroke-width", 1.2);

  // depth axis
  const minorAxis = d3.axisLeft(y).tickValues(d3.range(0, p.maxDepth + 1, 1)).tickSize(3).tickSizeOuter(0).tickFormat("");
  g.append("g").attr("transform", "translate(179,0)").call(minorAxis)
    .selectAll("path, line").attr("stroke", "#333");
  const majorAxis = d3.axisLeft(y).tickValues(p.depthTicks).tickSize(6).tickSizeOuter(0).tickPadding(2).tickFormat(fmt);
  const dg = g.append("g").attr("transform", "translate(179,0)").call(majorAxis);
  dg.select(".domain").remove();
  dg.selectAll("line").attr("stroke", "#333");
  dg.selectAll("text").attr("font-size", FS_DEPTH).attr("font-family", null).attr("fill", INK);
  g.append("text")
    .attr("transform", "translate(135," + ((y(0) + y(p.maxDepth)) / 2) + ") rotate(-90)")
    .attr("text-anchor", "middle").attr("font-size", FS).attr("fill", INK)
    .text("Depth [cm]");

  // scales for the proxy columns
  const xVarve = d3.scaleLinear().domain(p.varveDomain).range([266, 339]);
  const xSub = d3.scaleLinear().domain(p.subDomain).range([346, 419]);
  const xBar = d3.scaleLinear().domain([0, 100]).range([459, 558]);
  const xCN = d3.scaleLinear().domain(p.cnDomain).range(p.cnRange);
  const xLog = d3.scaleLinear().domain(p.logDomain).range(p.logRange);
  const xTi = d3.scaleLinear().domain(p.tiDomain).range(p.tiRange);

  const line = (xs, curve) => d3.line()
    .defined(d => d !== null)
    .x(d => xs(d[1]))
    .y(d => y(d[0]))
    .curve(curve || d3.curveLinear);

  function path(data, xs, color, w, curve) {
    g.append("path").datum(data)
      .attr("d", line(xs, curve))
      .attr("fill", "none").attr("stroke", color).attr("stroke-width", w)
      .attr("stroke-linejoin", "round");
  }

  // varve thickness and sublayers
  path(p.varve, xVarve, INK, 1.2);
  p.subs.forEach(s => path(s.data, xSub, s.color, 1.1));

  // stacked composition bars
  const bars = g.selectAll(".bar").data(p.bars).enter().append("g");
  bars.append("rect").attr("x", xBar(0)).attr("y", d => y(d[0]))
    .attr("width", d => xBar(d[2]) - xBar(0)).attr("height", d => y(d[1]) - y(d[0]))
    .attr("fill", "#151515").attr("stroke", "#2a2a2a").attr("stroke-width", 0.6);
  bars.append("rect").attr("x", d => xBar(d[2])).attr("y", d => y(d[0]))
    .attr("width", d => xBar(d[2] + d[3]) - xBar(d[2])).attr("height", d => y(d[1]) - y(d[0]))
    .attr("fill", ORANGE).attr("stroke", "#3a2a1a").attr("stroke-width", 0.6);
  bars.append("rect").attr("x", d => xBar(d[2] + d[3])).attr("y", d => y(d[0]))
    .attr("width", d => xBar(100) - xBar(d[2] + d[3])).attr("height", d => y(d[1]) - y(d[0]))
    .attr("fill", GREEN).attr("stroke", "#1f3a28").attr("stroke-width", 0.6);

  // C/N, geochemistry
  path(p.cn, xCN, INK, 1.3);
  path(p.logRaw, xLog, RAW, 0.9);
  path(p.logSmooth, xLog, GREEN, 1.6, d3.curveMonotoneY);
  path(p.tiRaw, xTi, RAW, 0.9);
  path(p.tiSmooth, xTi, BLUE, 1.6, d3.curveMonotoneY);

  // axes
  hAxis(g, xVarve, p.bottom, "bottom", p.varveStep, p.varveTicks);
  hAxis(g, xSub, p.top, "top", 1, p.subTicks);
  hAxis(g, xBar, p.bottom, "bottom", 25, [0, 100]);
  hAxis(g, xCN, p.top, "top", 0.5, [8, 10]);
  hAxis(g, xLog, p.bottom, "bottom", p.logStep, p.logTicks);
  hAxis(g, xTi, p.bottom, "bottom", p.tiStep, p.tiTicks);

  // titles above
  addText(g, p.titleX, p.top - 92, p.title);
  addText(g, p.titleX, p.top - 68, ["sublayer thickness"]);
  addText(g, 381, p.top - 44, ["[mm]"]);
  addText(g, 584, p.top - 38, ["C/N"], { size: 21 });

  // labels below
  addText(g, 304, p.bottom + 51, ["varve thickness"]);
  if (p.mmUnder) addText(g, 304, p.bottom + 75, ["[mm]"]);
  addText(g, 512, p.bottom + 51, ["TOC; ", { t: "CaCO", c: ORANGE_T }, { t: "3", c: ORANGE_T, fs: 11, dy: 4 }, { t: ",", dy: -4 }]);
  addText(g, 512, p.bottom + 77, [{ t: "Diatoms*", c: GREEN_T }]);
  addText(g, 512, p.bottom + 101, ["[%]"]);
  addText(g, 642, p.bottom + 51, [{ t: "log (Si/Ti)", c: GREEN_T }]);
  addText(g, 737, p.bottom + 51, [{ t: "Ti", c: BLUE }, { t: "clr", c: BLUE, fs: 11, dy: 4 }]);

  // sedimentology legend
  addText(g, 55, p.bottom + 51, ["Sedimentology"], { anchor: "start", size: 21.5 });
  g.append("line").attr("x1", 55).attr("x2", 199)
    .attr("y1", p.bottom + 55).attr("y2", p.bottom + 55)
    .attr("stroke", "#777").attr("stroke-width", 1.2);
  p.legend.forEach(function(item, i) {
    const by = p.bottom + 77 + i * 23.5;
    g.append("rect").attr("x", 56).attr("y", by - 12).attr("width", 21).attr("height", 10)
      .attr("fill", "url(#" + item[0] + ")");
    addText(g, 92, by, [item[1]], { anchor: "start", size: 21.5 });
  });
}

const panels = [
  {
    letter: "A", lake: "Lake Głęboczek", top: 117, bottom: 481, maxDepth: 30,
    boxTop: 6, boxBottom: 582, lakeY: 293,
    depthTicks: aDepthTicks, lith: aLith, bands: aBands,
    varve: aVarve, varveDomain: [0, 12], varveStep: 2, varveTicks: aVarveTicks,
    subs: [{ data: aCalcite, color: ORANGE }, { data: aOrg1, color: INK }, { data: aOrg2, color: GREEN }],
    subDomain: [0, 6], subTicks: aSubTicks,
    bars: aBars, cn: aCN, cnDomain: [8, 11], cnRange: [561, 607],
    logRaw: aLogRaw, logSmooth: aLogSmooth, logDomain: [-1, 3], logRange: [604, 680], logStep: 0.5, logTicks: aLogTicks,
    tiRaw: aTiRaw, tiSmooth: aTiSmooth, tiDomain: [-5, -1], tiRange: [701, 773], tiStep: 0.5, tiTicks: aTiTicks,
    titleX: 377,
    title: [{ t: "calcite", c: ORANGE_T }, ", ", { t: "1st", fs: 10, dy: -8 }, { t: "organic, ", dy: 8 },
            { t: "2nd", fs: 10, dy: -8 }, { t: "organic", c: GREEN_T, dy: 8 }],
    legend: [["diatom", "diatomaceous v."], ["calcite", "calcite v."]],
    mmUnder: true
  },
  {
    letter: "B", lake: "Lake Czechowskie", top: 709, bottom: 1073, maxDepth: 65,
    boxTop: 610, boxBottom: 1170, lakeY: 889,
    depthTicks: bDepthTicks, lith: bLith, bands: bBands,
    varve: bVarve, varveDomain: [0, 12], varveStep: 2, varveTicks: bVarveTicks,
    subs: [{ data: bCalcite, color: ORANGE }, { data: bOrganic, color: GREEN }],
    subDomain: [0, 8], subTicks: bSubTicks,
    bars: bBars, cn: bCN, cnDomain: [8, 10], cnRange: [561, 597],
    logRaw: bLogRaw, logSmooth: bLogSmooth, logDomain: [-0.5, 1.5], logRange: [604, 682], logStep: 0.25, logTicks: bLogTicks,
    tiRaw: bTiRaw, tiSmooth: bTiSmooth, tiDomain: [-3, -0.4], tiRange: [700, 773], tiStep: 0.5, tiTicks: bTiTicks,
    titleX: 383,
    title: [{ t: "calcite", c: ORANGE_T }, " & ", { t: "organic", c: GREEN_T }],
    legend: [["calcite", "calcite varves"], ["faint", "faintly varved"]],
    mmUnder: true
  },
  {
    letter: "C", lake: "Lake Jelonek", top: 1313, bottom: 1678, maxDepth: 50,
    boxTop: 1207, boxBottom: 1777, lakeY: 1491,
    depthTicks: cDepthTicks, lith: cLith, bands: cBands,
    varve: cVarve, varveDomain: [0, 8], varveStep: 1, varveTicks: cVarveTicks,
    subs: [{ data: cCalcite, color: ORANGE }, { data: cOrganic, color: GREEN }],
    subDomain: [0, 6], subTicks: cSubTicks,
    bars: cBars, cn: cCN, cnDomain: [8, 10], cnRange: [561, 603],
    logRaw: cLogRaw, logSmooth: cLogSmooth, logDomain: [-1, 3], logRange: [604, 678], logStep: 0.5, logTicks: cLogTicks,
    tiRaw: cTiRaw, tiSmooth: cTiSmooth, tiDomain: [-4.4, -2], tiRange: [700, 775], tiStep: 0.5, tiTicks: cTiTicks,
    titleX: 388,
    title: [{ t: "calcite", c: ORANGE_T }, " & ", { t: "organic", c: GREEN_T }],
    legend: [["gyttja", "homogenous gyttja [mm]"], ["calcite", "calcite varves"]],
    mmUnder: false
  }
];

panels.forEach(drawPanel);
</script>
</body>
</html>
